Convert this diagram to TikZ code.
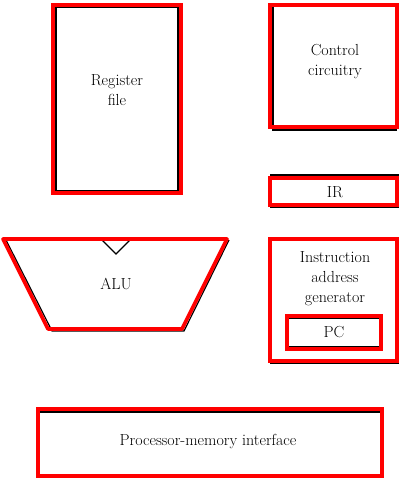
\documentclass[tikz,border=0pt]{standalone}
\usepackage{fontspec}
\begin{document}
\begin{tikzpicture}[x=1pt,y=-1pt,
  blk/.style={draw=black,line width=1.2pt},
  rd/.style={draw=red,line width=3.6pt},
  lbl/.style={font=\fontsize{16}{20}\selectfont,align=center,text=black}]
\useasboundingbox (0,0) rectangle (413,481);
% Register file
\draw[blk] (56,7) rectangle (178,191);
\draw[rd] (53,5) rectangle (181,193);
\node[lbl] (reg) at (117,90) {Register\\file};
% Control circuitry
\draw[blk] (273,6) rectangle (396,130);
\draw[rd] (270,5) rectangle (397,127);
\node[lbl] (ctrl) at (335,62) {Control\\circuitry};
% IR
\draw[blk] (271,175) rectangle (398,207);
\draw[rd] (270,178) rectangle (397,205);
\node[lbl] (ir) at (335,192) {IR};
% Instruction address generator
\draw[blk] (271,240) rectangle (398,363);
\draw[rd] (270,239) rectangle (397,361);
\node[lbl] (iag) at (335,279) {Instruction\\address\\generator};
% PC
\draw[blk] (288,318) rectangle (381,347);
\draw[rd] (287,316) rectangle (381,349);
\node[lbl] (pc) at (334,332) {PC};
% ALU
\draw[blk] (6,240) -- (52,331) -- (184,331) -- (229,240);
\draw[blk] (102,240) -- (116,254) -- (130,240);
\draw[rd,line join=round] (3,239) -- (227,239) -- (182,329) -- (48,329) -- cycle;
\node[lbl] (alu) at (116,284) {ALU};
% Processor-memory interface
\draw[blk] (39,412) rectangle (382,475);
\draw[rd] (38,409) rectangle (382,476);
\node[lbl] (pmi) at (208,442) {Processor-memory interface};
\end{tikzpicture}
\end{document}
